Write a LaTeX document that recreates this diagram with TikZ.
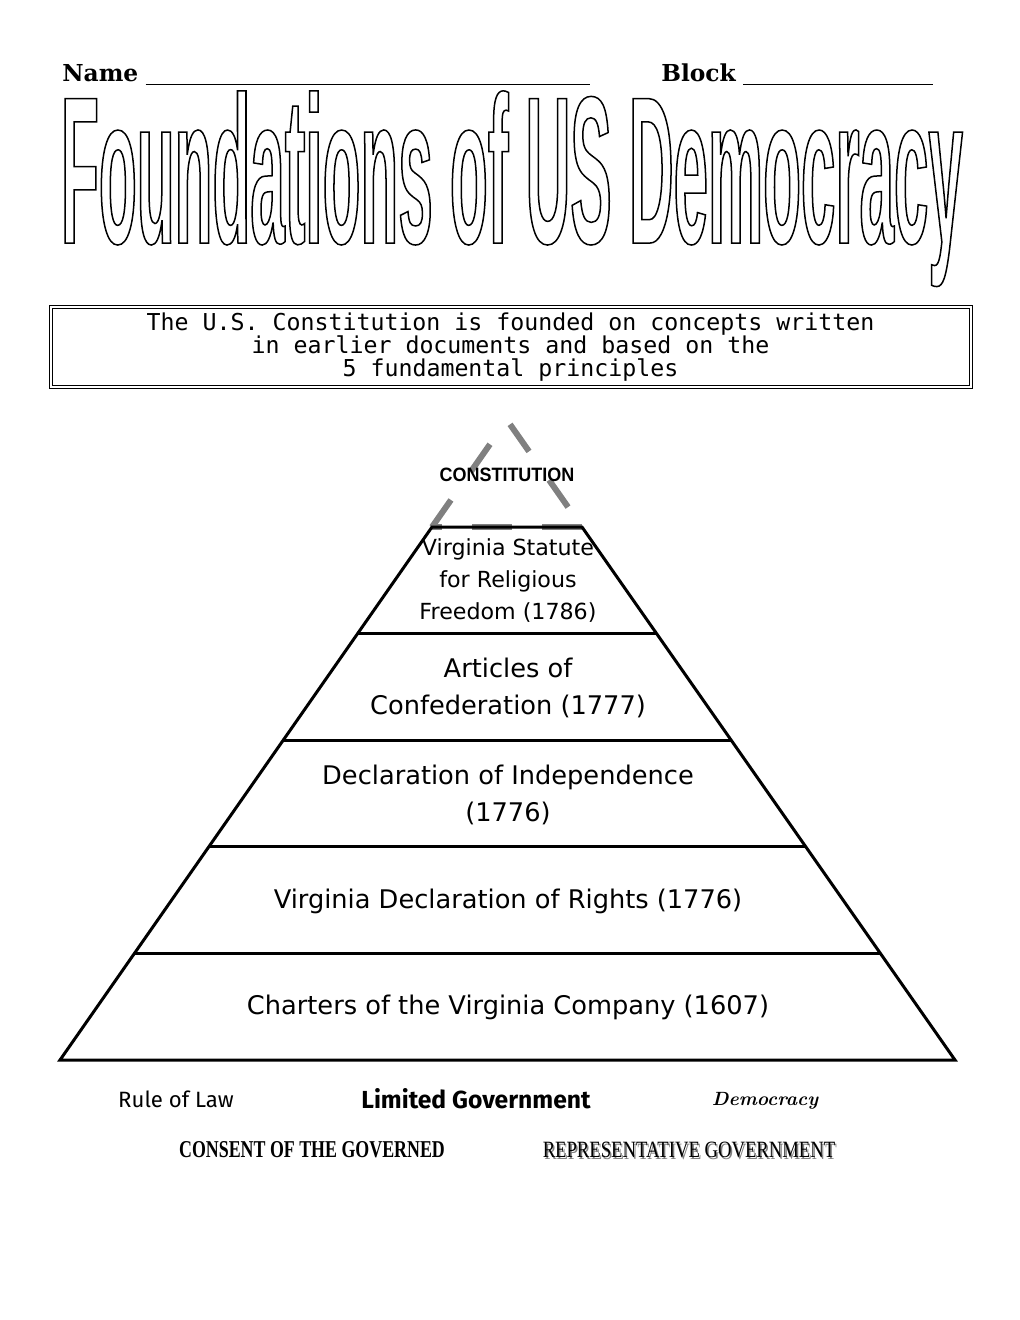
\documentclass[tikz,border=0pt]{standalone}
\usepackage{fontspec}
\usepackage{graphicx}
\usetikzlibrary{calc}
\newfontfamily\pyrfont{DejaVu Sans}
\newfontfamily\boxfont{DejaVu Sans Mono}
\newfontfamily\slabfont{DejaVu Serif}
\newfontfamily\headfont{Liberation Sans}[FakeStretch=0.295]
\newfontfamily\capfont{Liberation Sans}[FakeStretch=0.93]
\newfontfamily\rulefont{Fira Sans}
\newfontfamily\consentfont{Liberation Serif}[FakeStretch=0.74]
\newfontfamily\repfont{Liberation Serif}[FakeStretch=0.8]
\definecolor{dashgray}{RGB}{128,128,128}
\newcommand{\hollowtext}[1]{\special{pdf:literal direct 1 Tr 0.9 w}#1\special{pdf:literal direct 0 Tr}}

\begin{document}
\begin{tikzpicture}[x=0.6pt, y=-0.6pt,
		pyr/.style = {line width=1.8pt},
		capdash/.style = {dashgray, line width=3.6pt, dash pattern=on 19.8pt off 21pt},
		basedash/.style = {dashgray, line width=3.6pt, dash pattern=on 24pt off 18pt},
		pyrtext/.style = {align=center, font=\pyrfont\fontsize{15.4}{22.2}\selectfont},
		slab/.style = {anchor=base west, inner sep=0pt, font=\slabfont\bfseries\fontsize{14}{16}\selectfont},
		blank/.style = {line width=0.6pt},
		reptext/.style = {font=\repfont\fontsize{14}{16}\selectfont}]
		\useasboundingbox (0,0) rectangle (1020,1320);
		\node (name) at (62,81) [slab] {Name};
		\node (block) at (661,81) [slab] {Block};
		\coordinate (nameend) at (590,84);
		\coordinate (blockend) at (933,84);
		\draw[blank] ([shift={(7,3)}]name.base east) -- (nameend);
		\draw[blank] ([shift={(7,3)}]block.base east) -- (blockend);
		\node (title) at (512,243) [anchor=base, font=\headfont\bfseries\fontsize{126}{126}\selectfont] {\hollowtext{Foundations of US Democracy}};
		\node (intro) at (510.5,347) [draw, line width=0.6pt, double, double distance=1.2pt, minimum width=552pt, minimum height=45pt, align=center, font=\boxfont\fontsize{13.95}{13.8}\selectfont] {The U.S. Constitution is founded on concepts written\\in earlier documents and based on the\\5 fundamental principles};
		\coordinate (bl) at (60,1060);
		\coordinate (br) at (955,1060);
		\coordinate (tl) at (432,527);
		\coordinate (tr) at (582,527);
		\coordinate (apex) at (507,420);
		\draw[capdash, yshift=1.5pt] (tl) -- (apex) -- (tr);
		\draw[basedash, yshift=1.5pt] (tr) -- (tl);
		\draw[pyr] (bl) -- (tl) -- (tr) -- (br) -- cycle;
		\foreach \i in {1,...,4} {
			\coordinate (l\i) at ($(bl)!\i/5!(tl)$);
			\coordinate (r\i) at ($(br)!\i/5!(tr)$);
			\draw[pyr] (l\i) -- (r\i);
		}
		\node (constitution) at (507,475) [font=\capfont\bfseries\fontsize{11.6}{13}\selectfont] {CONSTITUTION};
		\node (statute) at (508,581) [pyrtext, font=\pyrfont\fontsize{13.3}{19.2}\selectfont] {Virginia Statute\\for Religious\\Freedom (1786)};
		\node (articles) at (508,688) [pyrtext] {Articles of\\Confederation (1777)};
		\node (decl) at (508,795) [pyrtext] {Declaration of Independence\\(1776)};
		\node (rights) at (508,901) [pyrtext] {Virginia Declaration of Rights (1776)};
		\node (charters) at (508,1007) [pyrtext] {Charters of the Virginia Company (1607)};
		\node (law) at (176,1099) [font=\rulefont\fontsize{13.3}{16}\selectfont] {Rule of Law};
		\node (limited) at (476,1099) [font=\rulefont\bfseries\fontsize{14.8}{16}\selectfont] {Limited Government};
		\node (democracy) at (765,1101) [font=\normalfont\itshape\bfseries\fontsize{11.5}{14}\selectfont] {Democracy};
		\node (consent) at (312,1150) [font=\consentfont\bfseries\fontsize{14.5}{16}\selectfont] {CONSENT OF THE GOVERNED};
		\node (repshadow) at (690.5,1151.5) [reptext, text=gray] {REPRESENTATIVE GOVERNMENT};
		\node (rep) at (689,1150) [reptext] {REPRESENTATIVE GOVERNMENT};
\end{tikzpicture}
\end{document}
